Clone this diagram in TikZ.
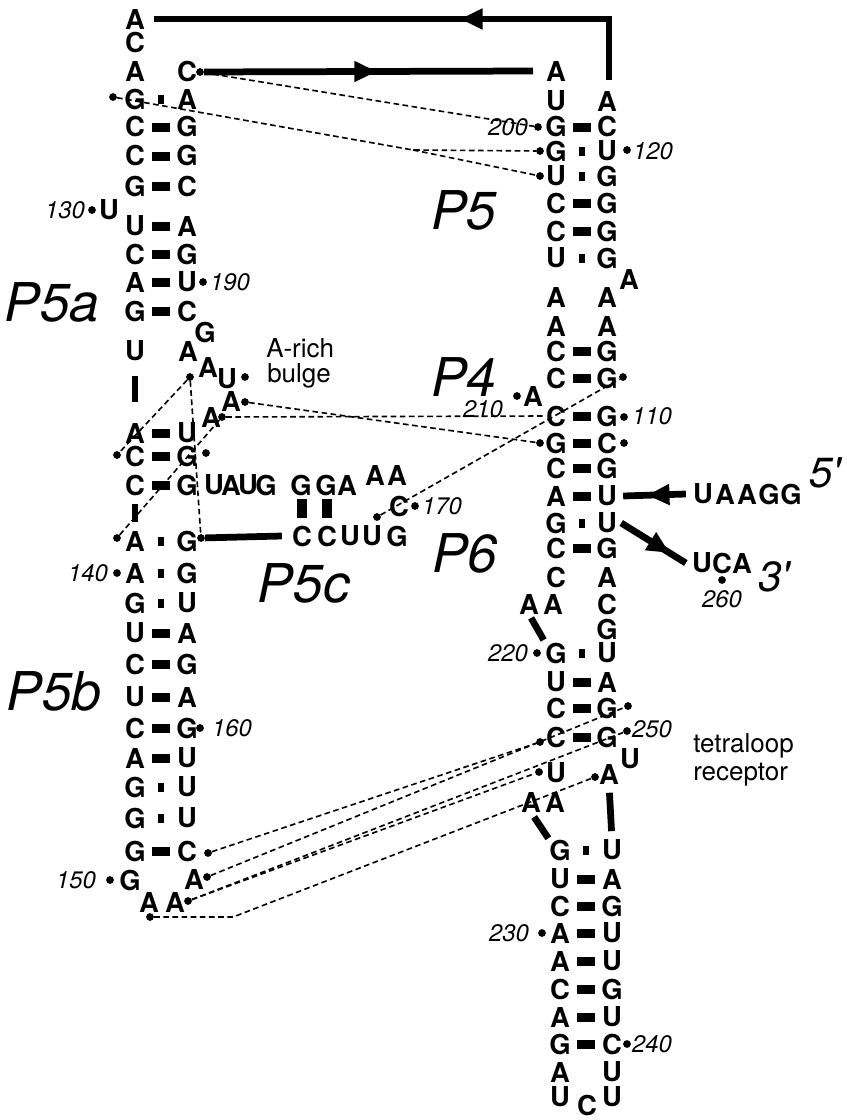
\documentclass[tikz,border=0pt]{standalone}
\usepackage{fontspec}
\setmainfont{TeX Gyre Heros}
\usetikzlibrary{arrows.meta,decorations.markings,calc}
\newcommand\bpW[2]{\fill (#1-9,#2-4.5) rectangle (#1+9,#2+4.5);}
\newcommand\bpS[2]{\fill (#1-3,#2-4.5) rectangle (#1+3,#2+4.5);}
\begin{document}
\begin{tikzpicture}[x=0.025cm,y=-0.025cm,
  nt/.style={font=\fontsize{19.5}{21}\selectfont\bfseries},
  num/.style={font=\fontsize{17}{18}\selectfont\itshape},
  stem/.style={font=\fontsize{38}{40}\selectfont\itshape},
  note/.style={font=\fontsize{18.5}{20}\selectfont,anchor=base west},
  dot/.style={circle,fill,minimum size=5.5pt},
  tert/.style={dash pattern=on 4pt off 2.5pt,line width=1.15pt},
  strand/.style={line width=4.8pt},
  midarrow/.style={postaction={decorate},decoration={markings,
    mark=at position #1 with {\arrow{Triangle[length=16pt,width=14pt]}}}}]
\tikzstyle{every node}+=[inner sep=0pt]
\useasboundingbox (0,0) rectangle (847,1120);
\foreach \y/\l/\bt/\r in {99/G/S/A,127/C/W/G,156/C/W/G,186/G/W/C,226/U/W/A,254/C/W/G,
  282/A/W/U,311/G/W/C,433/A/W/U,456/C/W/G,485/C/W/G,541/A/S/G,573/A/S/G,603/G/S/U,
  633/U/W/A,664/C/W/G,697/U/W/A,728/C/W/G,758/A/W/U,787/G/S/U,818/G/S/U,851/G/W/C}{
  \node[nt] (a\y) at (135,\y) {\l};
  \node[nt] (b\y) at (187,\y) {\r};
  \csname bp\bt\endcsname{161}{\y}
}
\foreach \y/\l/\bt/\r in {127/G/W/C,151/G/S/U,176/U/S/G,203/C/W/G,231/C/W/G,258/U/S/G,
  351/C/W/G,378/C/W/G,416/C/W/G,443/G/W/C,468/C/W/G,496/A/W/U,523/G/S/U,548/C/W/G,
  653/G/S/U,682/U/W/A,708/C/W/G,737/C/W/G}{
  \node[nt] (c\y) at (556,\y) {\l};
  \node[nt] (d\y) at (607,\y) {\r};
  \csname bp\bt\endcsname{582}{\y}
}
\foreach \y/\l/\bt/\r in {850/G/S/U,879/U/W/A,906/C/W/G,933/A/W/U,961/A/W/U,989/C/W/G,
  1017/A/W/U,1044/G/W/C}{
  \node[nt] (c\y) at (560,\y) {\l};
  \node[nt] (d\y) at (612,\y) {\r};
  \csname bp\bt\endcsname{586}{\y}
}
\node[nt] (a19) at (135,19) {A};
\node[nt] (a43) at (135,43) {C};
\node[nt] (a72) at (135,72) {A};
\node[nt] (b72) at (187,72) {C};
\node[nt] (u130) at (109,210) {U};
\node[nt] (a351) at (135,351) {U};
\node[nt] (b351) at (188,351) {A};
\node[nt] (g1) at (205,332) {G};
\node[nt] (x1) at (208,367) {A};
\node[nt] (x2) at (227,379) {U};
\node[nt] (x3) at (231,401) {A};
\node[nt] (x4) at (211,417) {A};
\foreach \x/\l [count=\i] in {214/U,231/A,248/U,266/G,301/G,326/G,347/A}
  \node[nt] (p\i) at (\x,485) {\l};
\node[nt] (p8) at (375,475) {A};
\node[nt] (p9) at (397,475) {A};
\node[nt] (q0) at (399,506) {C};
\foreach \x/\l [count=\i] in {302/C,327/C,350/U,372/U,397/G}
  \node[nt] (q\i) at (\x,536) {\l};
\fill (297,499) rectangle (307,518);
\fill (322,499) rectangle (332,518);
\node[nt] (a880) at (130,880) {G};
\node[nt] (b880) at (194,879) {A};
\node[nt] (l1) at (149,902) {A};
\node[nt] (l2) at (175,902) {A};
\node[nt] (c72) at (556,72) {A};
\node[nt] (c101) at (556,101) {U};
\node[nt] (d101) at (607,101) {A};
\node[nt] (e1) at (629,279) {A};
\node[nt] (c297) at (556,297) {A};
\node[nt] (d297) at (607,297) {A};
\node[nt] (c326) at (556,326) {A};
\node[nt] (d326) at (607,326) {A};
\node[nt] (a210) at (533,396) {A};
\node[nt] (c577) at (556,577) {C};
\node[nt] (d577) at (607,577) {A};
\node[nt] (f1) at (529,604) {A};
\node[nt] (f2) at (553,604) {A};
\node[nt] (d604) at (607,604) {C};
\node[nt] (d630) at (607,629) {G};
\node[nt] (e2) at (630,759) {U};
\node[nt] (c773) at (556,773) {U};
\node[nt] (d773) at (609,774) {A};
\node[nt] (h1) at (531,802) {A};
\node[nt] (h2) at (555,802) {A};
\node[nt] (c1072) at (560,1072) {A};
\node[nt] (d1072) at (612,1072) {U};
\node[nt] (c1098) at (560,1097) {U};
\node[nt] (d1098) at (612,1097) {U};
\node[nt] (t1) at (587,1105) {C};
\foreach \x/\l [count=\i] in {703/U,725/A,747/A,769/G,791/G}
  \node[nt] (s\i) at (\x,494) {\l};
\foreach \x/\l [count=\i] in {702/U,722/C,742/A}
  \node[nt] (r\i) at (\x,563) {\l};
\node[stem] (P5) at (464,210) {P5};
\node[stem] (P5a) at (52,302) {P5a};
\node[stem] (P4) at (464,377) {P4};
\node[stem] (P6) at (465,553) {P6};
\node[stem] (P5c) at (304,583) {P5c};
\node[stem] (P5b) at (54,691) {P5b};
\node[font=\fontsize{30}{32}\selectfont\itshape] (five) at (825,473) {5\textquotesingle};
\node[font=\fontsize{30}{32}\selectfont\itshape] (three) at (774,577) {3\textquotesingle};
\node[note] (rich) at (266,357) {A-rich};
\node[note] (bulge) at (267,382) {bulge};
\node[note] (tetra) at (693,752) {tetraloop};
\node[note] (recep) at (693,780) {receptor};
\node[dot] (dC) at (200,72) {};
\node[dot] (dG126) at (113,97) {};
\node[dot] (d130) at (92,210) {};
\node[num] at (65,210) {130};
\node[dot] (d190) at (203,282) {};
\node[num] at (230,282) {190};
\node[dot] (dBa) at (190,377) {};
\node[dot] (dBu) at (245,377) {};
\node[dot] (dBb) at (245,402) {};
\node[dot] (dBc) at (222,417) {};
\node[dot] (dC1) at (117,455) {};
\node[dot] (dG1) at (206,453) {};
\node[dot] (dA1) at (117,538) {};
\node[dot] (dG2) at (201,538) {};
\node[dot] (d140) at (117,573) {};
\node[num] at (88,573) {140};
\node[dot] (d160) at (200,728) {};
\node[num] at (232,728) {160};
\node[dot] (dC154) at (208,853) {};
\node[dot] (dA153) at (207,877) {};
\node[dot] (dA152) at (188,901) {};
\node[dot] (dA151) at (150,917) {};
\node[dot] (d150) at (110,880) {};
\node[num] at (76,880) {150};
\node[dot] (d170) at (415,506) {};
\node[num] at (442,506) {170};
\node[dot] (dUg) at (377,517) {};
\node[dot] (d200) at (538,127) {};
\node[num] at (508,127) {200};
\node[dot] (dG201) at (540,151) {};
\node[dot] (dU202) at (540,176) {};
\node[dot] (d120) at (627,150) {};
\node[num] at (653,151) {120};
\node[dot] (dG111) at (623,377) {};
\node[dot] (d210) at (517,396) {};
\node[num] at (483,409) {210};
\node[dot] (d110) at (624,417) {};
\node[num] at (652,416) {110};
\node[dot] (dG212) at (540,443) {};
\node[dot] (dC109) at (624,443) {};
\node[dot] (d220) at (537,653) {};
\node[num] at (508,653) {220};
\node[dot] (dG708) at (628,706) {};
\node[dot] (dC223) at (540,742) {};
\node[dot] (d250) at (627,731) {};
\node[num] at (652,729) {250};
\node[dot] (dU773) at (539,772) {};
\node[dot] (dA774) at (595,777) {};
\node[dot] (d230) at (542,933) {};
\node[num] at (509,933) {230};
\node[dot] (d240) at (627,1044) {};
\node[num] at (652,1044) {240};
\node[dot] (d260) at (722,580) {};
\node[num] at (722,599) {260};
\coordinate (k1) at (609,19);
\coordinate (k2) at (609,80);
\coordinate (k3) at (533,71);
\draw[strand,midarrow=0.4,shorten >=6pt] (k2) -- (k1) -- (a19.east);
\draw[strand,midarrow=0.525] (dC) -- (k3);
\draw[strand,midarrow=0.62] ($(s1.west)+(-7,0)$) -- ($(d496.east)+(6,0)$);
\draw[strand,midarrow=0.75] ($(d523.east)+(4,0)$) -- ($(r1.west)+(-6,0)$);
\draw[strand] (dG2) -- ($(q1.west)+(-10,0)$);
\draw[strand,shorten <=3pt,shorten >=2pt] (f1.south) -- (c653.north west);
\draw[strand,shorten <=4pt,shorten >=1pt] (h1.south) -- (c850.north west);
\draw[strand,shorten <=10pt,shorten >=15pt] (a351.south) -- (a433.north);
\draw[strand,shorten <=6pt,shorten >=6pt] (a485.south) -- (a541.north);
\draw[strand,shorten <=6pt,shorten >=6pt] (d773.south) -- (d850.north);
\coordinate (j1) at (413,150);
\coordinate (j2) at (233,917);
\draw[tert] (dC) -- (d200);
\draw[tert] (dG126) -- (j1) -- (dG201);
\draw[tert] (j1) -- (dU202);
\draw[tert] (dBa) -- (dC1);
\draw[tert] (dBa) -- (dG2);
\draw[tert] (dBb) -- (dG212);
\draw[tert] (dBc) -- (c416.west);
\draw[tert] (dBc) -- (dA1);
\draw[tert] (dUg) -- (dG111);
\draw[tert] (dC154) -- (dC223);
\draw[tert] (dA153) -- (dG708);
\draw[tert] (dA152) -- (d250);
\draw[tert] (dA152) -- (dU773);
\draw[tert] (dA151) -- (j2) -- (dA774);
\end{tikzpicture}
\end{document}
